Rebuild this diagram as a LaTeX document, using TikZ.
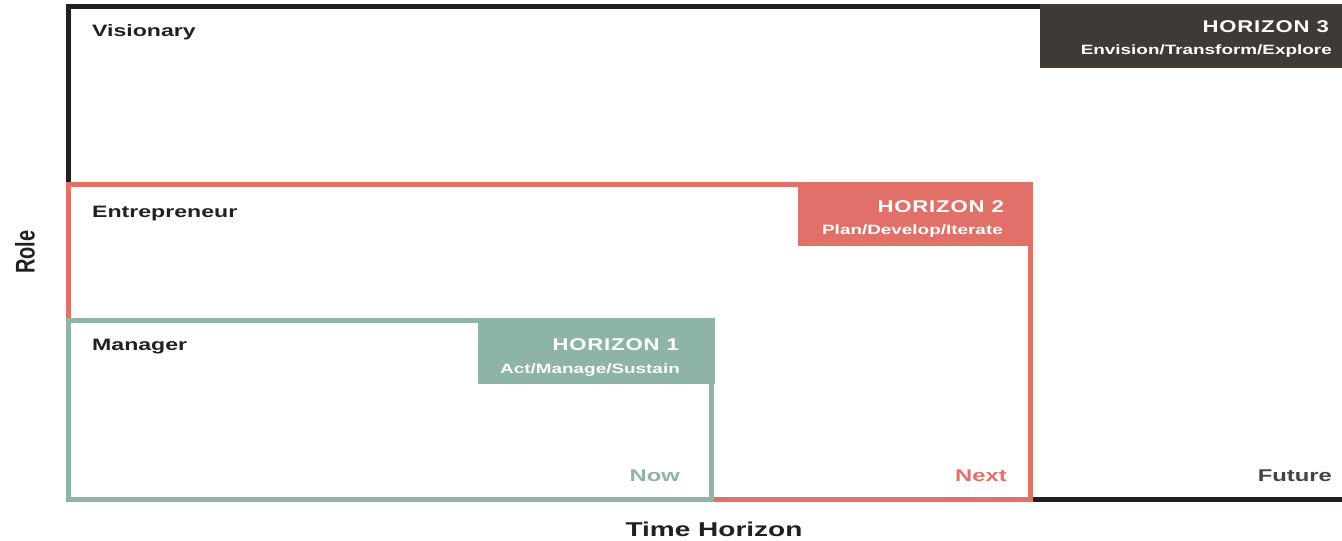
\documentclass[tikz,border=0pt]{standalone}
\usepackage{fontspec}
\setmainfont{Liberation Sans}
\newfontfamily\widefont[FakeStretch=1.4]{Liberation Sans}
\newfontfamily\headfont[FakeStretch=1.3,LetterSpace=5]{Liberation Sans}
\definecolor{inkblack}{HTML}{231F20}
\definecolor{hthree}{HTML}{3F3A35}
\definecolor{htwo}{HTML}{E07068}
\definecolor{hone}{HTML}{8DB4A5}
\definecolor{futgray}{HTML}{444444}
\tikzset{
  frameline/.style={line width=5pt, line join=miter, line cap=rect},
  rolelabel/.style={anchor=base west, inner sep=0pt, text=inkblack, font=\widefont\bfseries\fontsize{16.5}{18}\selectfont},
  headlabel/.style={anchor=base east, inner sep=0pt, text=white, font=\headfont\bfseries\fontsize{17}{19}\selectfont},
  sublabel/.style={anchor=base east, inner sep=0pt, text=white, font=\widefont\bfseries\fontsize{13.5}{15}\selectfont},
  timelabel/.style={anchor=base east, inner sep=0pt, font=\widefont\bfseries\fontsize{17}{19}\selectfont},
  axislabel/.style={inner sep=0pt, text=inkblack}
}
\begin{document}
\begin{tikzpicture}[x=1pt,y=-1pt]
\useasboundingbox (0,0) rectangle (1342,541);
% black frame
\draw[frameline, inkblack] (1040,6) -- (68,6) -- (68,184.5);
\draw[frameline, inkblack, line cap=butt] (1033,499) -- (1342,499);
% red frame
\draw[frameline, htwo] (798,184.5) -- (68,184.5) -- (68,320.5);
\draw[frameline, htwo] (1030,246) -- (1030,499) -- (711,499);
% green frame
\draw[frameline, hone] (478,320.5) -- (68,320.5) -- (68,499) -- (711,499) -- (711,384);
% horizon boxes
\fill[hthree] (1040,4) rectangle (1342,68);
\fill[htwo] (798,182) rectangle (1033,246);
\fill[hone] (478,318) rectangle (715,384);
% role labels
\node[rolelabel] (vis) at (92,36) {Visionary};
\node[rolelabel] (ent) at (92,217) {Entrepreneur};
\node[rolelabel] (man) at (92,350) {Manager};
% horizon labels
\node[headlabel] (h3) at (1329,32) {HORIZON 3};
\node[sublabel] (h3s) at (1332,54) {Envision/Transform/Explore};
\node[headlabel] (h2) at (1004,212) {HORIZON 2};
\node[sublabel] (h2s) at (1003,234) {Plan/Develop/Iterate};
\node[headlabel] (h1) at (679,350) {HORIZON 1};
\node[sublabel] (h1s) at (680,373) {Act/Manage/Sustain};
% time labels
\node[timelabel, text=hone] (now) at (680,481) {Now};
\node[timelabel, text=htwo] (next) at (1007,481) {Next};
\node[timelabel, text=futgray] (fut) at (1332,481) {Future};
% axis labels
\node[axislabel, anchor=base, font=\widefont\bfseries\fontsize{20}{22}\selectfont] (time) at (714,536) {Time Horizon};
\node[axislabel, rotate=90] (role) at (25,252) {\scalebox{1}[1.35]{\bfseries\fontsize{20}{22}\selectfont Role}};
\end{tikzpicture}
\end{document}
